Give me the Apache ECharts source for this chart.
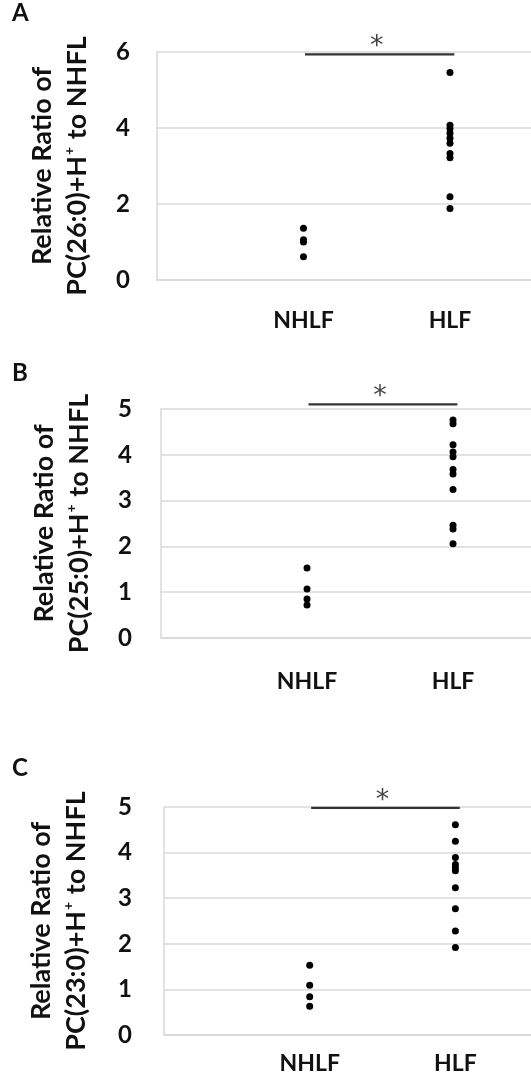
<!DOCTYPE html>
<html>
<head>
<meta charset="utf-8">
<script src="https://cdn.jsdelivr.net/npm/echarts@6/dist/echarts.min.js"></script>
<style>
html,body{margin:0;padding:0;background:#fff;}
#c{width:531px;height:1075px;}
</style>
</head>
<body>
<div id="c"></div>
<script>
// ---- data ----
const categories = ['NHLF', 'HLF'];
const panelLetters = ['A', 'B', 'C'];
const lipidNames = ['PC(26:0)', 'PC(25:0)', 'PC(23:0)'];
const yTicksA = [0, 2, 4, 6];
const yTicksB = [0, 1, 2, 3, 4, 5];
const yTicksC = [0, 1, 2, 3, 4, 5];
const nhlfA = [1.36, 1.06, 1.0, 0.61];
const hlfA = [5.46, 4.07, 3.98, 3.86, 3.73, 3.6, 3.33, 3.22, 2.19, 1.88];
const nhlfB = [1.53, 1.07, 0.85, 0.72];
const hlfB = [4.76, 4.68, 4.22, 4.06, 3.96, 3.68, 3.58, 3.24, 2.46, 2.38, 2.06];
const nhlfC = [1.53, 1.09, 0.84, 0.63];
const hlfC = [4.61, 4.25, 3.89, 3.74, 3.67, 3.6, 3.23, 2.77, 2.28, 1.92];
const sigLevel = [5.94, 5.1, 4.98];
const sigLabel = '*';

const FONT = 'Lato';
const panels = [
  {nhlf: nhlfA, hlf: hlfA, ticks: yTicksA, grid: {left: 157, top: 52, right: 0, height: 228}, xMax: 2.553, labelMargin: 29, tickMargin: 27, nameGap: 62, letterY: 1, star: 6.28},
  {nhlf: nhlfB, hlf: hlfB, ticks: yTicksB, grid: {left: 161, top: 409, right: 0, height: 229}, xMax: 2.534, labelMargin: 32, tickMargin: 29, nameGap: 64, letterY: 361, star: 5.39},
  {nhlf: nhlfC, hlf: hlfC, ticks: yTicksC, grid: {left: 164, top: 807, right: 0, height: 228}, xMax: 2.519, labelMargin: 17, tickMargin: 32, nameGap: 70, letterY: 756, star: 5.27}
];

const grids = [], xAxes = [], yAxes = [], series = [], graphics = [];
panels.forEach((p, i) => {
  grids.push(Object.assign({containLabel: false}, p.grid));
  const ticks = p.ticks;
  xAxes.push({
    type: 'value', gridIndex: i, min: 0, max: p.xMax, interval: 1,
    axisLine: {show: true, lineStyle: {color: '#d9d9d9', width: 1.5}},
    axisTick: {show: false}, splitLine: {show: false},
    axisLabel: {
      margin: p.labelMargin, color: '#111', fontFamily: FONT, fontWeight: 'bold', fontSize: 23,
      showMaxLabel: false,
      formatter: v => categories[v - 1] || ''
    }
  });
  yAxes.push({
    type: 'value', gridIndex: i, min: ticks[0], max: ticks[ticks.length - 1], interval: ticks[1] - ticks[0],
    axisLine: {show: true, lineStyle: {color: '#d9d9d9', width: 1.5}},
    axisTick: {show: false},
    splitLine: {show: true, lineStyle: {color: '#d9d9d9', width: 1.5}},
    axisLabel: {margin: p.tickMargin, color: '#111', fontFamily: FONT, fontWeight: 'bold', fontSize: 24},
    name: 'Relative Ratio of\n{a|' + lipidNames[i] + '+H}{s|+}{a| to NHFL}',
    nameLocation: 'middle', nameRotate: 90, nameGap: p.nameGap,
    nameTextStyle: {
      color: '#111', fontFamily: FONT, fontWeight: 'bold', fontSize: 27, lineHeight: 35,
      rich: {
        a: {color: '#111', fontFamily: FONT, fontWeight: 'bold', fontSize: 27, lineHeight: 35},
        s: {color: '#111', fontFamily: FONT, fontWeight: 'bold', fontSize: 14, lineHeight: 35, padding: [0, 1, 16, 1]}
      }
    }
  });
  series.push({
    type: 'scatter', xAxisIndex: i, yAxisIndex: i, symbolSize: 7,
    itemStyle: {color: '#000', opacity: 1},
    data: p.nhlf.map(v => [1, v]).concat(p.hlf.map(v => [2, v]))
  });
  series.push({
    type: 'line', xAxisIndex: i, yAxisIndex: i, clip: false, symbol: 'none',
    lineStyle: {color: '#333', width: 2.2},
    data: [[1.01, sigLevel[i]], [2.03, sigLevel[i]]]
  });
  series.push({
    type: 'scatter', xAxisIndex: i, yAxisIndex: i, clip: false, symbolSize: 0,
    label: {show: true, position: 'inside', formatter: sigLabel, color: '#111', fontFamily: 'DejaVu Sans', fontSize: 27, offset: [0, 6]},
    data: [[1.5, p.star]]
  });
  graphics.push({
    type: 'text', left: 12, top: p.letterY,
    style: {text: panelLetters[i], fill: '#111', font: 'bold 24px ' + FONT}
  });
});

const chart = echarts.init(document.getElementById('c'), null, {renderer: 'canvas'});
chart.setOption({
  backgroundColor: '#fff',
  animation: false,
  grid: grids, xAxis: xAxes, yAxis: yAxes, series: series, graphic: graphics
});
</script>
</body>
</html>
